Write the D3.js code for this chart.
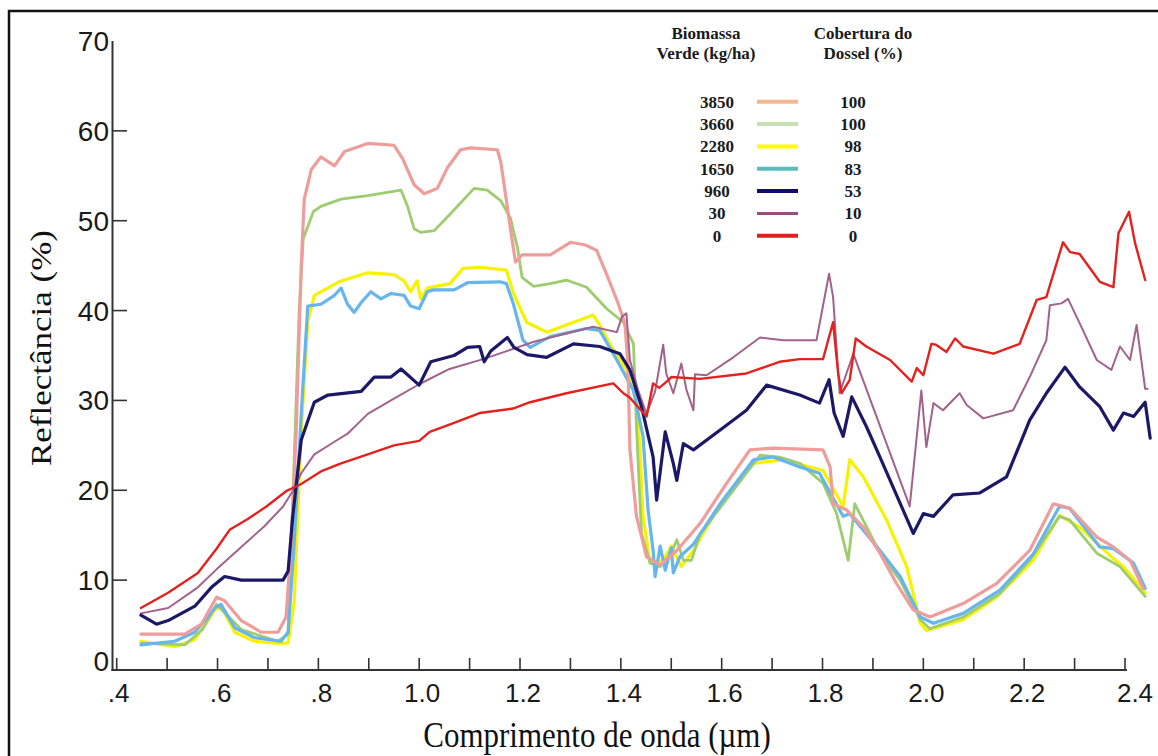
<!DOCTYPE html>
<html><head><meta charset="utf-8">
<script src="https://cdn.jsdelivr.net/npm/d3@7"></script>
<style>
html,body{margin:0;padding:0;background:#fff;}
svg{display:block;}
</style></head>
<body><svg id="chart" width="1158" height="756"></svg>
<script>
// ---- data (wavelength µm, reflectance %) ----
const biomass = ["3850","3660","2280","1650","960","30","0"];
const cover   = ["100","100","98","83","53","10","0"];

const s3850 = [[0.448,4.0],[0.535,4.0],[0.568,5.1],[0.598,8.1],[0.614,7.7],[0.647,5.5],[0.687,4.2],[0.72,4.2],[0.736,5.9],[0.746,14.1],[0.756,26.5],[0.766,45.0],[0.772,52.4],[0.786,55.7],[0.805,57.1],[0.832,56.1],[0.852,57.7],[0.898,58.6],[0.95,58.4],[0.967,56.9],[0.99,54.0],[1.01,53.0],[1.036,53.6],[1.056,55.9],[1.082,57.9],[1.102,58.1],[1.155,57.9],[1.162,56.5],[1.181,49.1],[1.191,45.4],[1.204,46.2],[1.26,46.2],[1.3,47.6],[1.33,47.3],[1.352,46.7],[1.372,44.0],[1.392,41.2],[1.408,38.6],[1.414,34.0],[1.418,24.5],[1.431,17.1],[1.451,12.6],[1.478,11.7],[1.511,13.3],[1.557,16.3],[1.61,20.8],[1.656,24.5],[1.702,24.7],[1.801,24.5],[1.815,22.6],[1.821,18.5],[1.848,17.8],[1.881,15.9],[1.914,13.0],[1.947,9.6],[1.98,6.7],[2.013,5.9],[2.079,7.4],[2.145,9.6],[2.211,13.3],[2.258,18.5],[2.291,18.0],[2.344,14.8],[2.377,13.7],[2.41,12.2],[2.436,9.1]];

const s3660 = [[0.448,3.0],[0.535,2.8],[0.57,4.5],[0.598,7.3],[0.647,4.5],[0.72,3.2],[0.74,4.0],[0.75,20.0],[0.762,40.0],[0.77,48.0],[0.79,51.0],[0.805,51.6],[0.845,52.4],[0.898,52.8],[0.964,53.4],[0.977,51.6],[0.99,49.1],[1.003,48.7],[1.03,48.9],[1.069,51.2],[1.109,53.6],[1.135,53.4],[1.162,52.2],[1.181,50.3],[1.195,47.0],[1.204,43.7],[1.227,42.7],[1.26,43.0],[1.292,43.4],[1.332,42.6],[1.372,40.2],[1.405,38.7],[1.425,36.3],[1.431,27.0],[1.441,15.2],[1.458,11.9],[1.478,11.5],[1.5,13.0],[1.511,14.5],[1.524,12.2],[1.54,12.2],[1.557,15.1],[1.623,20.0],[1.676,23.9],[1.715,23.7],[1.755,23.0],[1.801,20.8],[1.828,17.4],[1.851,12.2],[1.864,18.5],[1.914,13.0],[1.954,10.0],[1.994,5.6],[2.013,4.6],[2.079,5.9],[2.152,8.5],[2.211,12.2],[2.27,17.1],[2.29,16.7],[2.344,13.0],[2.39,11.5],[2.44,8.2]];

const s2280 = [[0.448,3.2],[0.515,2.6],[0.555,3.4],[0.595,6.7],[0.607,7.1],[0.634,4.2],[0.673,3.2],[0.713,3.0],[0.74,3.0],[0.752,7.5],[0.766,26.5],[0.779,38.8],[0.792,41.7],[0.812,42.3],[0.845,43.3],[0.898,44.2],[0.95,44.0],[0.97,43.3],[0.983,42.1],[0.996,43.3],[1.003,41.3],[1.016,42.5],[1.061,43.0],[1.087,44.7],[1.122,44.8],[1.173,44.5],[1.187,41.9],[1.213,38.7],[1.253,37.6],[1.292,38.4],[1.345,39.5],[1.358,38.4],[1.385,35.6],[1.411,33.4],[1.431,30.0],[1.438,24.5],[1.444,17.1],[1.458,11.9],[1.484,12.2],[1.5,13.8],[1.52,11.5],[1.544,13.3],[1.597,18.5],[1.663,23.0],[1.722,23.4],[1.801,22.2],[1.841,18.2],[1.854,23.4],[1.881,21.5],[1.927,16.7],[1.967,11.5],[1.994,5.2],[2.006,4.4],[2.079,5.6],[2.145,8.1],[2.218,12.2],[2.27,17.2],[2.31,15.9],[2.377,12.4],[2.397,11.5],[2.44,8.6]];

const s1650 = [[0.448,2.8],[0.515,3.2],[0.555,4.2],[0.595,6.9],[0.607,7.3],[0.634,4.7],[0.673,3.6],[0.726,3.2],[0.74,4.2],[0.752,14.1],[0.766,28.5],[0.779,40.5],[0.805,40.7],[0.832,41.7],[0.845,42.5],[0.858,40.7],[0.871,39.8],[0.885,40.9],[0.904,42.1],[0.924,41.3],[0.944,41.9],[0.97,41.7],[0.983,40.5],[1.0,40.2],[1.016,42.1],[1.028,42.3],[1.069,42.3],[1.096,43.1],[1.16,43.2],[1.173,43.0],[1.187,40.7],[1.206,36.7],[1.22,35.9],[1.26,37.1],[1.332,38.0],[1.358,37.8],[1.392,34.5],[1.425,31.1],[1.444,26.0],[1.454,17.8],[1.464,13.3],[1.468,10.4],[1.478,13.8],[1.488,11.1],[1.5,13.6],[1.504,10.8],[1.517,12.6],[1.544,14.0],[1.597,18.5],[1.663,23.4],[1.702,23.7],[1.755,22.6],[1.794,21.9],[1.841,17.1],[1.854,17.4],[1.914,13.3],[1.954,10.4],[1.994,5.9],[2.02,5.2],[2.079,6.3],[2.152,8.9],[2.218,12.9],[2.27,18.2],[2.29,18.0],[2.35,13.7],[2.377,13.5],[2.417,11.9],[2.44,9.1]];

const s960 = [[0.448,6.1],[0.479,5.1],[0.502,5.5],[0.555,7.1],[0.588,9.2],[0.614,10.4],[0.647,10.0],[0.687,10.0],[0.73,10.0],[0.74,11.0],[0.749,17.0],[0.766,25.6],[0.779,27.7],[0.792,29.8],[0.819,30.6],[0.885,31.0],[0.911,32.6],[0.944,32.6],[0.964,33.5],[1.0,31.7],[1.023,34.3],[1.069,35.0],[1.096,35.9],[1.12,36.0],[1.129,34.3],[1.142,35.5],[1.175,37.0],[1.188,35.9],[1.214,35.1],[1.253,34.8],[1.306,36.3],[1.358,36.0],[1.398,35.2],[1.418,33.4],[1.441,29.3],[1.464,23.7],[1.471,18.9],[1.488,26.5],[1.504,23.0],[1.511,21.1],[1.524,25.2],[1.544,24.5],[1.597,26.7],[1.649,28.9],[1.689,31.7],[1.755,30.6],[1.794,29.7],[1.813,32.3],[1.823,28.6],[1.841,26.0],[1.858,30.4],[1.887,27.1],[1.914,23.7],[1.98,15.2],[2.0,17.4],[2.02,17.1],[2.059,19.5],[2.112,19.7],[2.165,21.5],[2.211,27.8],[2.244,30.8],[2.281,33.7],[2.31,31.5],[2.35,29.3],[2.377,26.7],[2.397,28.6],[2.417,28.2],[2.44,29.8],[2.45,25.8]];

const s30 = [[0.448,6.3],[0.502,6.9],[0.561,9.2],[0.598,11.2],[0.647,13.7],[0.693,16.0],[0.73,18.2],[0.749,19.9],[0.766,21.9],[0.792,24.0],[0.832,25.4],[0.858,26.3],[0.898,28.5],[0.95,30.2],[1.0,31.8],[1.06,33.5],[1.127,34.6],[1.195,35.9],[1.226,36.5],[1.26,37.0],[1.345,38.2],[1.392,37.6],[1.402,39.3],[1.411,39.7],[1.418,34.5],[1.435,31.0],[1.451,28.5],[1.468,31.0],[1.484,36.2],[1.49,33.0],[1.504,30.8],[1.52,34.1],[1.53,31.2],[1.544,28.9],[1.547,32.9],[1.57,32.8],[1.623,34.8],[1.676,37.0],[1.722,36.7],[1.788,36.7],[1.813,44.1],[1.821,41.5],[1.834,30.8],[1.861,35.2],[1.973,18.2],[1.996,31.1],[2.006,24.8],[2.02,29.7],[2.039,28.9],[2.072,30.8],[2.086,29.5],[2.119,28.0],[2.178,28.9],[2.211,32.6],[2.244,36.7],[2.251,40.6],[2.274,40.8],[2.287,41.3],[2.31,38.6],[2.344,34.5],[2.373,33.4],[2.39,36.0],[2.41,34.5],[2.423,38.4],[2.44,31.3],[2.445,31.3]];

const s0 = [[0.448,6.9],[0.502,8.6],[0.561,10.8],[0.598,13.5],[0.624,15.6],[0.66,16.8],[0.697,18.2],[0.736,19.9],[0.766,20.7],[0.805,22.1],[0.845,23.0],[0.898,24.0],[0.95,25.0],[1.0,25.5],[1.021,26.5],[1.06,27.3],[1.12,28.6],[1.186,29.1],[1.22,29.8],[1.292,30.8],[1.385,31.9],[1.405,30.8],[1.418,30.3],[1.451,28.2],[1.464,31.9],[1.476,31.4],[1.491,32.1],[1.5,32.6],[1.557,32.4],[1.649,33.0],[1.715,34.3],[1.755,34.6],[1.801,34.6],[1.821,38.7],[1.831,33.0],[1.838,30.8],[1.854,32.3],[1.866,36.9],[1.887,36.0],[1.934,34.5],[1.977,32.1],[1.987,33.6],[2.0,32.8],[2.016,36.3],[2.025,36.2],[2.046,35.4],[2.063,36.9],[2.079,36.0],[2.139,35.2],[2.191,36.3],[2.225,41.2],[2.244,41.5],[2.277,47.6],[2.291,46.5],[2.31,46.3],[2.35,43.2],[2.377,42.6],[2.387,48.6],[2.408,51.0],[2.42,47.5],[2.44,43.4]];

const xTickValues = [0.4,0.5,0.6,0.7,0.8,0.9,1.0,1.1,1.2,1.3,1.4,1.5,1.6,1.7,1.8,1.9,2.0,2.1,2.2,2.3,2.4];
const xLabelValues = [0.4,0.6,0.8,1.0,1.2,1.4,1.6,1.8,2.0,2.2,2.4];
const xLabels = [".4",".6",".8","1.0","1.2","1.4","1.6","1.8","2.0","2.2","2.4"];
const yTickValues = [10,20,30,40,50,60];
const yLabelValues = [0,10,20,30,40,50,60,70];

// ---- styling ----
const lineColors   = {"3850":"#ef9d9b","3660":"#9dcd6e","2280":"#f7f200","1650":"#66b5ec","960":"#1b1868","30":"#a2628c","0":"#e3221f"};
const legendColors = {"3850":"#f4b68e","3660":"#c6e0b4","2280":"#ffff00","1650":"#5bbbbd","960":"#0e0c70","30":"#994d7b","0":"#e0201e"};
const lineWidths   = {"3850":3.2,"3660":2.8,"2280":3.2,"1650":3.2,"960":3.2,"30":2.0,"0":2.4};
const dataByKey = {"3850":s3850,"3660":s3660,"2280":s2280,"1650":s1650,"960":s960,"30":s30,"0":s0};
const drawOrder = ["2280","3660","1650","3850","30","960","0"];

const svg = d3.select("#chart");
svg.append("rect").attr("width",1158).attr("height",756).attr("fill","#fff");
// frame
svg.append("rect").attr("x",9).attr("y",11).attr("width",1170).attr("height",760)
  .attr("fill","none").attr("stroke","#111").attr("stroke-width",2.5);

const x = d3.scaleLinear().domain([0.4,2.4]).range([116.7,1125]);
const y = d3.scaleLinear().domain([0,70]).range([670,41]);
const axisColor = "#333";

// axes lines
svg.append("line").attr("x1",112.5).attr("x2",112.5).attr("y1",y(70)).attr("y2",y(0)+1)
  .attr("stroke",axisColor).attr("stroke-width",2);
svg.append("line").attr("x1",111.5).attr("x2",x(2.4)+2).attr("y1",y(0)).attr("y2",y(0))
  .attr("stroke",axisColor).attr("stroke-width",2.2);

// x ticks (inward)
svg.append("g").selectAll("line").data(xTickValues).join("line")
  .attr("x1",d=>x(d)).attr("x2",d=>x(d)).attr("y1",y(0)).attr("y2",y(0)-12)
  .attr("stroke",axisColor).attr("stroke-width",1.6);
// y ticks (inward)
svg.append("g").selectAll("line").data(yTickValues).join("line")
  .attr("x1",112.5).attr("x2",127).attr("y1",d=>y(d)).attr("y2",d=>y(d))
  .attr("stroke",axisColor).attr("stroke-width",1.6);

// x labels
svg.append("g").selectAll("text").data(xLabelValues).join("text")
  .attr("x",(d,i)=>x(d)+(i===0?2:(i===xLabelValues.length-1?10:3)))
  .attr("y",702)
  .attr("text-anchor","middle")
  .attr("font-family","'Liberation Sans', Arial, sans-serif")
  .attr("font-size",26).attr("fill","#1a1a1a")
  .text((d,i)=>xLabels[i]);
// y labels
svg.append("g").selectAll("text").data(yLabelValues).join("text")
  .attr("x",109).attr("y",d=>y(d)+ (d===0?1:10))
  .attr("text-anchor","end")
  .attr("font-family","'Liberation Sans', Arial, sans-serif")
  .attr("font-size",28).attr("fill","#1a1a1a")
  .text(d=>d);

// axis titles
svg.append("text").attr("transform","translate(597,747) scale(1,1.15)")
  .attr("text-anchor","middle").attr("font-family","'Liberation Serif','Times New Roman',serif")
  .attr("font-size",31).attr("fill","#111").text("Comprimento de onda (µm)");
svg.append("text").attr("transform","translate(51,348) scale(0.87,1) rotate(-90)")
  .attr("text-anchor","middle").attr("font-family","'Liberation Serif','Times New Roman',serif")
  .attr("font-size",35).attr("fill","#111").text("Reflectância (%)");

// curves
const line = d3.line().x(d=>x(d[0])).y(d=>y(d[1]));
svg.append("g").selectAll("path").data(drawOrder).join("path")
  .attr("d",k=>line(dataByKey[k]))
  .attr("fill","none")
  .attr("stroke",k=>lineColors[k])
  .attr("stroke-width",k=>lineWidths[k])
  .attr("stroke-linejoin","round").attr("stroke-linecap","round");

// legend
const lf = "'Liberation Serif','Times New Roman',serif";
const lg = svg.append("g").attr("font-family",lf).attr("font-weight","bold").attr("font-size",17).attr("fill","#1a1a1a");
lg.append("text").attr("x",706).attr("y",39).attr("text-anchor","middle").text("Biomassa");
lg.append("text").attr("x",706).attr("y",59).attr("text-anchor","middle").text("Verde (kg/ha)");
lg.append("text").attr("x",863).attr("y",39).attr("text-anchor","middle").text("Cobertura do");
lg.append("text").attr("x",863).attr("y",59).attr("text-anchor","middle").text("Dossel (%)");
const rowY = i => 101.7 + i*22.35;
lg.selectAll("text.b").data(biomass).join("text").attr("class","b")
  .attr("x",717).attr("y",(d,i)=>rowY(i)+6).attr("text-anchor","middle").text(d=>d);
lg.selectAll("text.c").data(cover).join("text").attr("class","c")
  .attr("x",853).attr("y",(d,i)=>rowY(i)+6).attr("text-anchor","middle").text(d=>d);
svg.append("g").selectAll("line").data(biomass).join("line")
  .attr("x1",757).attr("x2",798).attr("y1",(d,i)=>rowY(i)).attr("y2",(d,i)=>rowY(i))
  .attr("stroke",d=>legendColors[d]).attr("stroke-width",d=>d==="30"?3:4);
</script>
</body></html>
